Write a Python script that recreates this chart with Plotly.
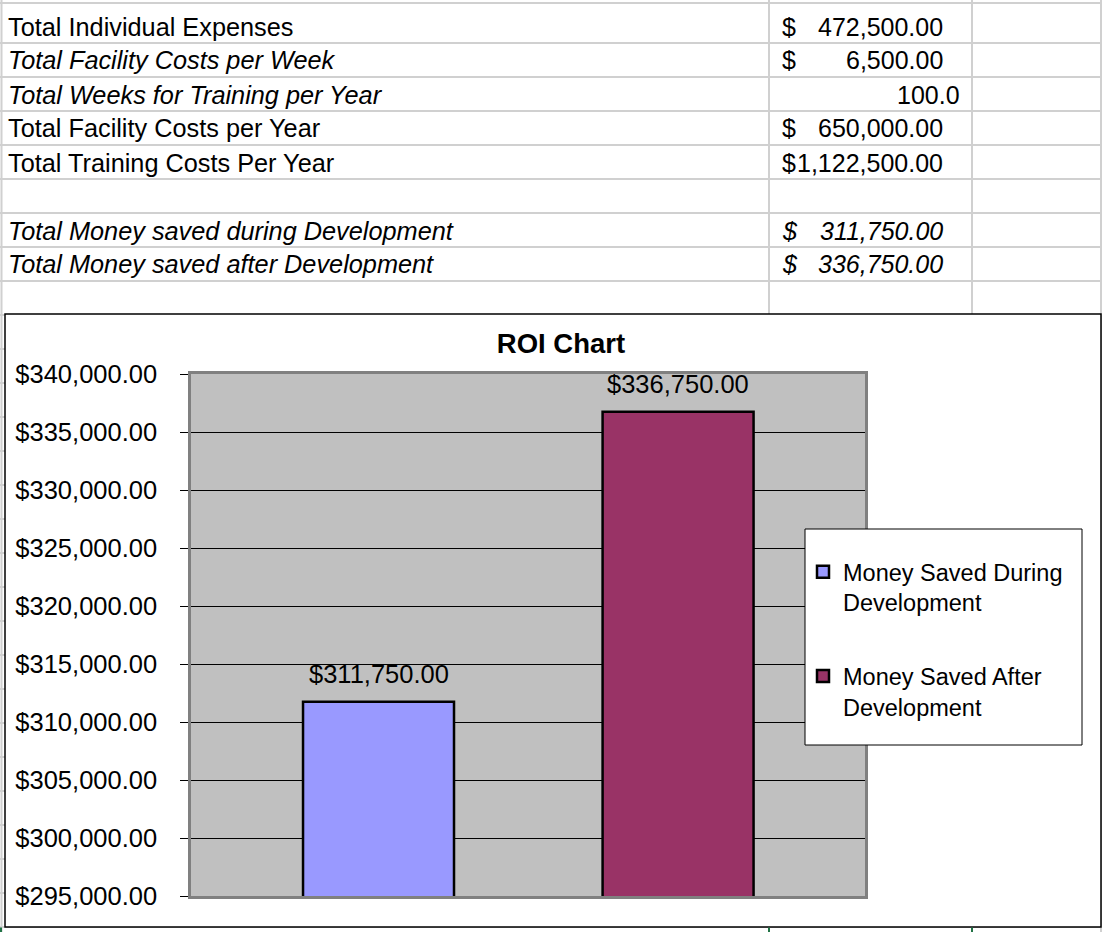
import plotly.graph_objects as go

# ---------------- data ----------------
table_labels = [
    "Total Individual Expenses",
    "Total Facility Costs per Week",
    "Total Weeks for Training per Year",
    "Total Facility Costs per Year",
    "Total Training Costs Per Year",
    "",
    "Total Money saved during Development",
    "Total Money saved after Development",
]
table_values = [472500.00, 6500.00, 100.0, 650000.00, 1122500.00, None, 311750.00, 336750.00]
table_is_currency = [True, True, False, True, True, False, True, True]
label_italic = [False, True, True, False, False, False, True, True]
value_italic = [False, False, False, False, False, False, True, True]

series_names = ["Money Saved During Development", "Money Saved After Development"]
series_values = [311750.00, 336750.00]
series_colors = ["#9999FF", "#993366"]

chart_title = "ROI Chart"
y_min, y_max, y_step = 295000, 340000, 5000

FONT = "Liberation Sans, Arial, sans-serif"

# ---------------- pixel -> paper helpers (layout only) ----------------
W, H = 1102, 932
PL, PR, PT, PB = 191, 865, 374, 896


def px(x):
    return (x - PL) / (PR - PL)


def py(y):
    return (PB - y) / (PB - PT)


fig = go.Figure()

annotations = []
for name, val, col in zip(series_names, series_values, series_colors):
    head, tail = name.rsplit(" ", 1)
    fig.add_trace(go.Bar(
        x=[name], y=[val], name=head + "<br>" + tail,
        legendgroup=name,
        marker=dict(color=col, line=dict(color="black", width=2.5)),
        hovertemplate="%{y:$,.2f}<extra>" + name + "</extra>",
    ))
    # data label above each bar
    annotations.append(dict(xref="x", yref="y", x=name, y=val, yanchor="bottom",
                            xanchor="center", yshift=12, showarrow=False,
                            text=f"${val:,.2f}",
                            font=dict(family=FONT, size=25.5, color="black")))

shapes = []
grid_col = "#d0d0d0"
# spreadsheet row lines
row_lines = [3] + list(range(43, H + 1, 34))
for yy in row_lines:
    shapes.append(dict(type="line", xref="paper", yref="paper", layer="below",
                       x0=px(0), x1=px(W), y0=py(yy), y1=py(yy),
                       line=dict(color=grid_col, width=2)))
for xx in [1.5, 769, 972, 1101]:
    shapes.append(dict(type="line", xref="paper", yref="paper", layer="below",
                       x0=px(xx), x1=px(xx), y0=py(0), y1=py(H),
                       line=dict(color=grid_col, width=2)))
# chart area
shapes.append(dict(type="rect", xref="paper", yref="paper", layer="below",
                   x0=px(5), x1=px(1101), y0=py(927), y1=py(314),
                   fillcolor="white", line=dict(color="black", width=1.5)))
# plot area
shapes.append(dict(type="rect", xref="paper", yref="paper", layer="below",
                   x0=0, x1=1, y0=0, y1=1,
                   fillcolor="#C0C0C0", line=dict(width=0)))
# selected column borders below the chart
for xx in [1, 769, 972]:
    shapes.append(dict(type="line", xref="paper", yref="paper", layer="below",
                       x0=px(xx), x1=px(xx), y0=py(927.5), y1=py(H),
                       line=dict(color="#217346", width=2)))
# legend box
shapes.append(dict(type="rect", xref="paper", yref="paper", layer="above",
                   x0=px(805), x1=px(1082), y0=py(745), y1=py(529),
                   fillcolor="white", line=dict(color="black", width=1)))

for i, (lab, val, cur, lit, vit) in enumerate(zip(table_labels, table_values, table_is_currency,
                                                  label_italic, value_italic)):
    row_bottom = 43 + 34 * i
    yc = py(row_bottom - 16.5)

    def wrap(s, it):
        return "<i>" + s + "</i>" if it else s

    if lab:
        annotations.append(dict(xref="paper", yref="paper", x=px(6), y=yc,
                                xanchor="left", yanchor="middle", showarrow=False,
                                text=wrap(lab, lit), font=dict(family=FONT, size=25.3, color="black")))
    if val is None:
        continue
    if cur:
        annotations.append(dict(xref="paper", yref="paper", x=px(780), y=yc,
                                xanchor="left", yanchor="middle", showarrow=False,
                                text=wrap("$", vit), font=dict(family=FONT, size=25, color="black")))
        annotations.append(dict(xref="paper", yref="paper", x=px(945), y=yc,
                                xanchor="right", yanchor="middle", showarrow=False,
                                text=wrap(f"{val:,.2f}", vit), font=dict(family=FONT, size=25, color="black")))
    else:
        annotations.append(dict(xref="paper", yref="paper", x=px(962), y=yc,
                                xanchor="right", yanchor="middle", showarrow=False,
                                text=wrap(f"{val:,.1f}", vit), font=dict(family=FONT, size=25, color="black")))

fig.update_layout(
    width=W, height=H, autosize=False,
    margin=dict(l=PL, r=W - PR, t=PT, b=H - PB, pad=0),
    paper_bgcolor="white", plot_bgcolor="rgba(0,0,0,0)",
    font=dict(family=FONT, color="black"),
    barmode="overlay", bargap=0.496,
    title=dict(text="<b>" + chart_title + "</b>", x=561 / W, xanchor="center", xref="container",
               y=1 - 343.5 / H, yanchor="middle", yref="container",
               font=dict(family=FONT, size=27.5, color="black")),
    xaxis=dict(type="category", range=[-0.626, 1.624], showticklabels=False, ticks="",
               showgrid=False, showline=True, linecolor="#808080", linewidth=3, mirror=True,
               zeroline=False),
    yaxis=dict(range=[y_min, y_max], tick0=y_min, dtick=y_step, tickformat="$,.2f",
               ticks="outside", ticklen=8, tickcolor="black", tickwidth=1,
               showgrid=True, gridcolor="black", gridwidth=1, zeroline=False,
               showline=True, linecolor="#808080", linewidth=2.5, mirror=True,
               tickfont=dict(family=FONT, size=25.5, color="black"), ticklabelstandoff=18),
    legend=dict(x=px(803), xanchor="left", y=py(550), yanchor="top",
                bgcolor="rgba(0,0,0,0)", borderwidth=0, traceorder="grouped",
                tracegroupgap=40, valign="top",
                font=dict(family=FONT, size=23.5, color="black")),
    shapes=shapes, annotations=annotations, showlegend=True,
)

fig.write_html("out.html", config={"displayModeBar": False},
               post_script="document.body.style.margin='0';")
